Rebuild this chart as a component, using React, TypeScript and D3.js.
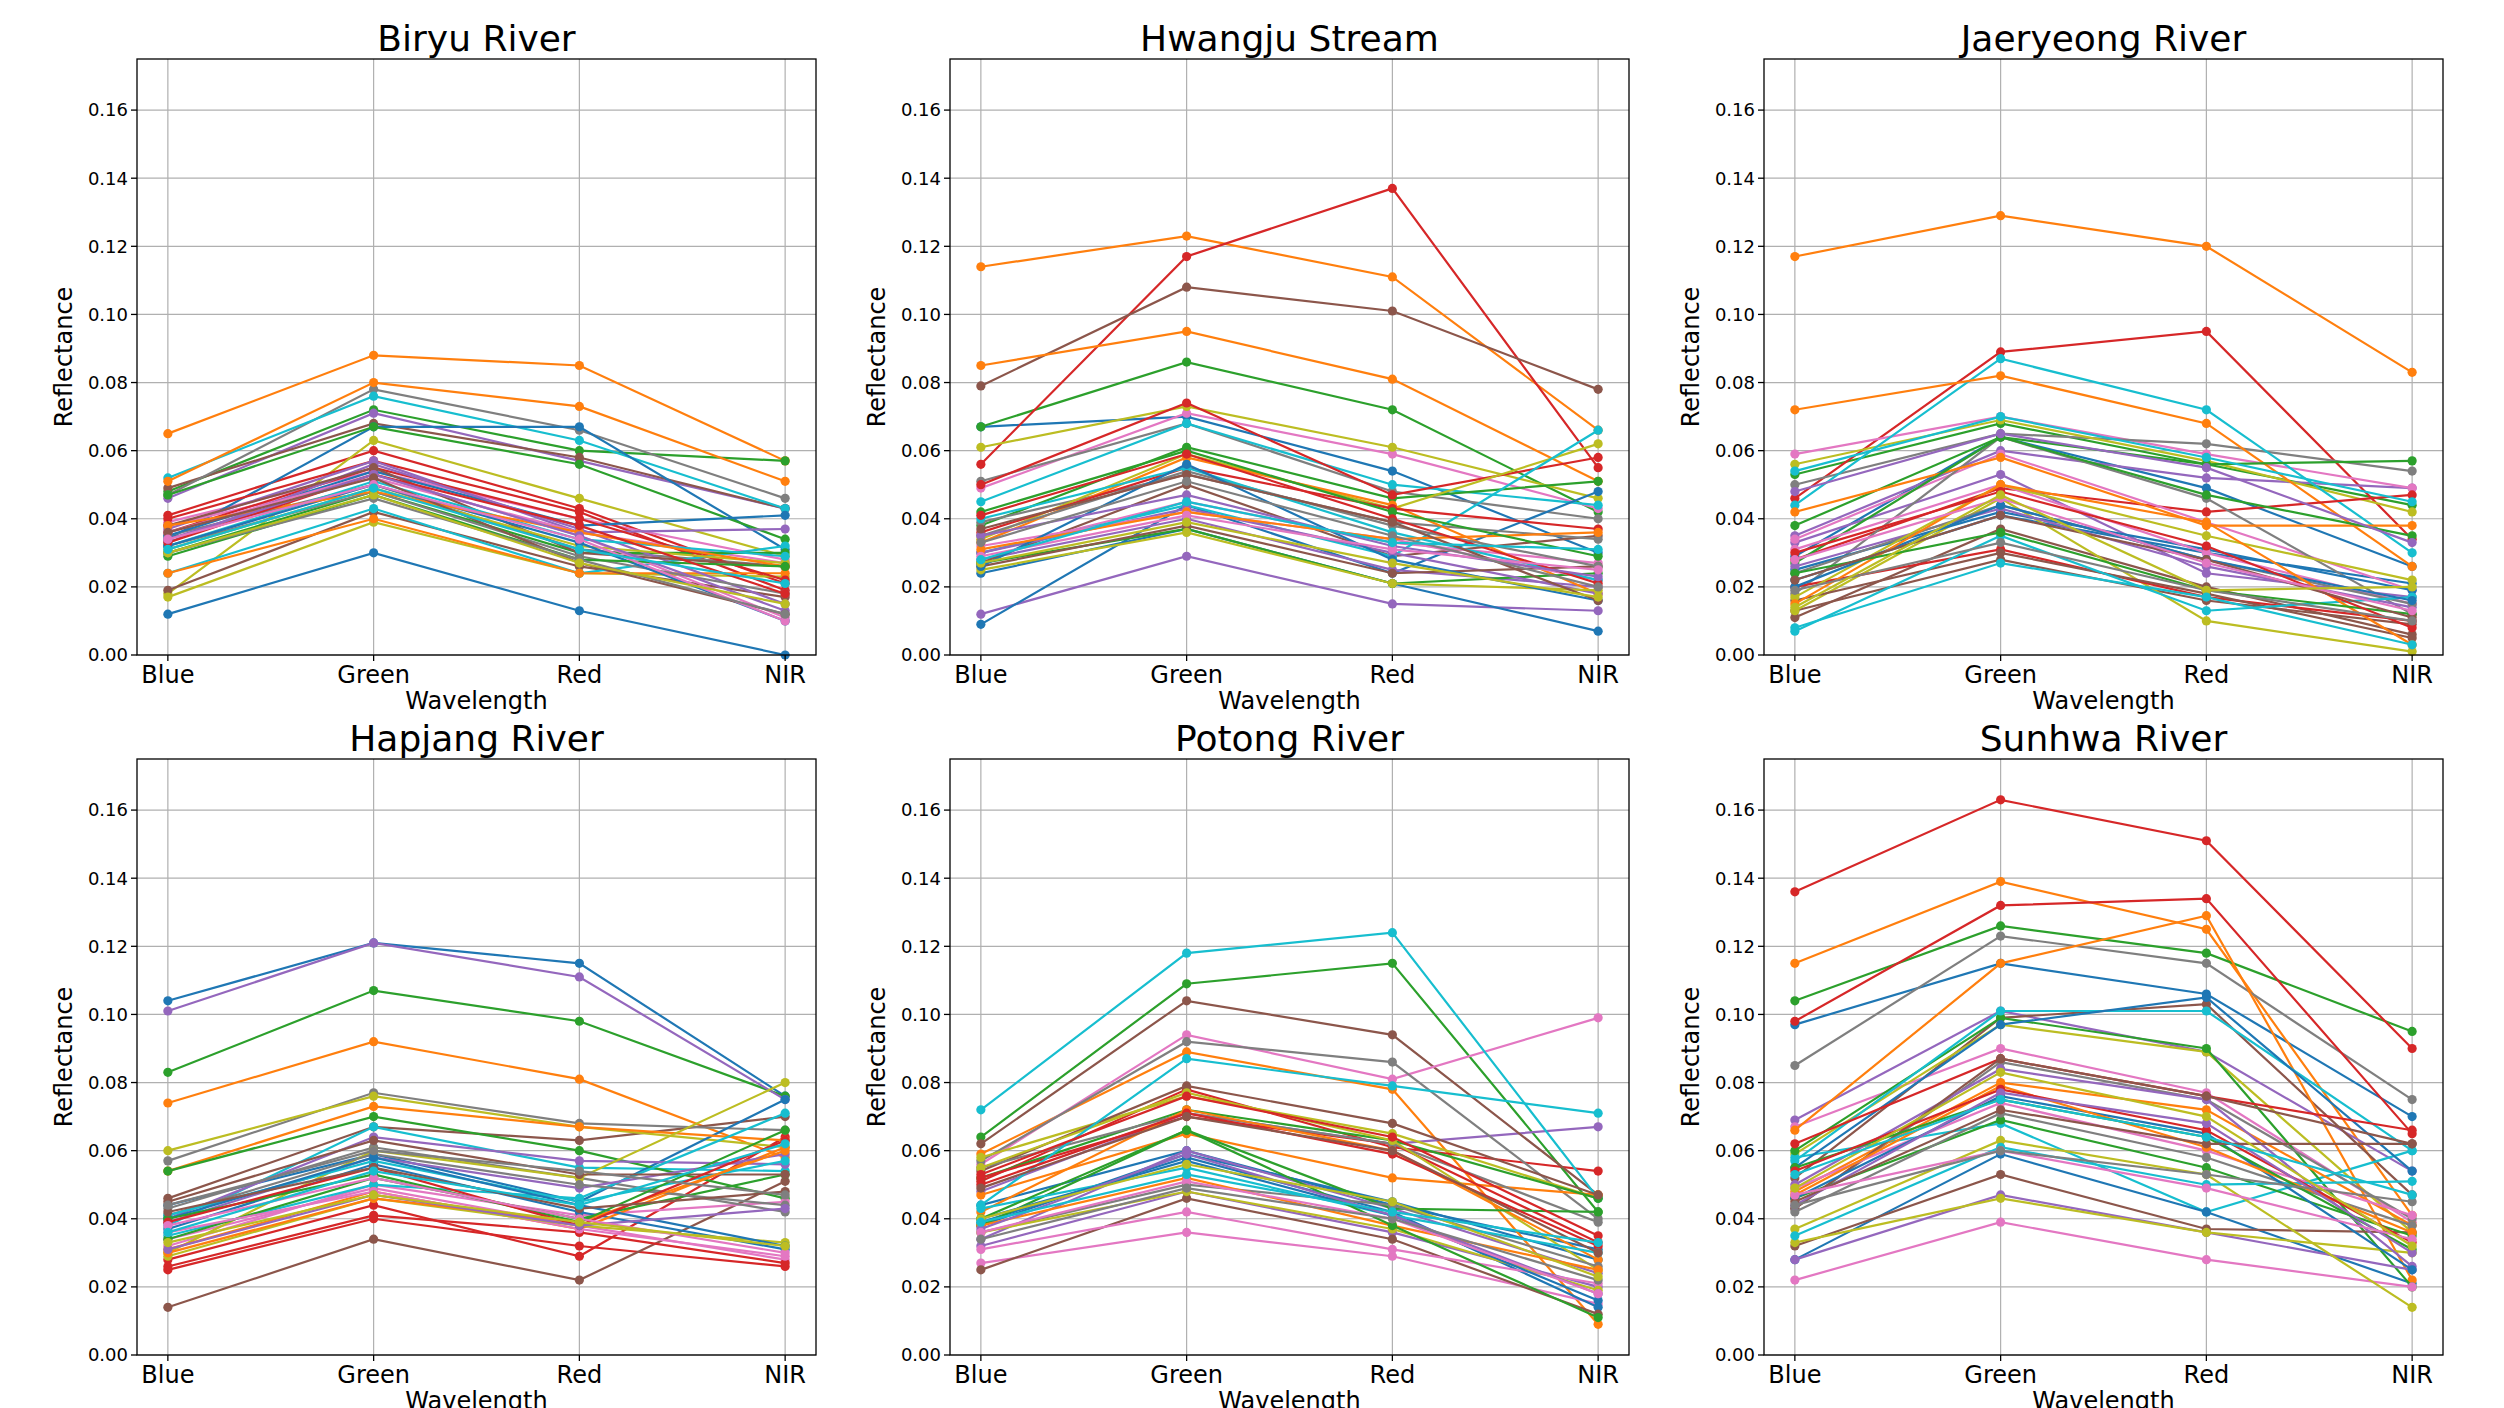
import { scaleLinear, scalePoint, line } from "d3";

const bands = ["Blue", "Green", "Red", "NIR"];
const yTicks = [0, 0.02, 0.04, 0.06, 0.08, 0.1, 0.12, 0.14, 0.16];
const tab10 = [
  "#1f77b4", "#ff7f0e", "#2ca02c", "#d62728", "#9467bd",
  "#8c564b", "#e377c2", "#7f7f7f", "#bcbd22", "#17becf",
];

// one row per pixel sample, rows colored in matplotlib cycle order
const biryu = [
  [0.012, 0.030, 0.013, 0.000], [0.065, 0.088, 0.085, 0.057], [0.048, 0.072, 0.060, 0.057], [0.041, 0.060, 0.043, 0.021], [0.046, 0.071, 0.057, 0.043],
  [0.049, 0.068, 0.058, 0.043], [0.039, 0.054, 0.040, 0.028], [0.047, 0.078, 0.066, 0.046], [0.018, 0.063, 0.046, 0.029], [0.052, 0.076, 0.063, 0.043],
  [0.034, 0.067, 0.067, 0.031], [0.051, 0.080, 0.073, 0.051], [0.047, 0.067, 0.056, 0.034], [0.040, 0.057, 0.042, 0.019], [0.037, 0.057, 0.036, 0.037],
  [0.019, 0.042, 0.026, 0.017], [0.038, 0.052, 0.036, 0.027], [0.035, 0.050, 0.031, 0.026], [0.017, 0.039, 0.024, 0.023], [0.024, 0.043, 0.024, 0.032],
  [0.035, 0.054, 0.038, 0.041], [0.024, 0.040, 0.024, 0.024], [0.030, 0.048, 0.030, 0.030], [0.036, 0.055, 0.040, 0.022], [0.033, 0.056, 0.037, 0.015],
  [0.038, 0.055, 0.030, 0.026], [0.036, 0.053, 0.035, 0.011], [0.032, 0.048, 0.029, 0.018], [0.031, 0.049, 0.032, 0.027], [0.032, 0.051, 0.034, 0.029],
  [0.032, 0.050, 0.033, 0.010], [0.038, 0.048, 0.036, 0.026], [0.029, 0.047, 0.028, 0.026], [0.033, 0.053, 0.038, 0.018], [0.034, 0.053, 0.035, 0.013],
  [0.036, 0.052, 0.027, 0.012], [0.034, 0.050, 0.034, 0.010], [0.030, 0.046, 0.028, 0.012], [0.030, 0.047, 0.027, 0.015], [0.031, 0.049, 0.031, 0.021],
];

const hwangju = [
  [0.067, 0.070, 0.054, 0.030], [0.114, 0.123, 0.111, 0.066], [0.067, 0.086, 0.072, 0.042], [0.056, 0.117, 0.137, 0.055], [0.012, 0.029, 0.015, 0.013],
  [0.079, 0.108, 0.101, 0.078], [0.049, 0.071, 0.059, 0.043], [0.051, 0.068, 0.048, 0.040], [0.061, 0.073, 0.061, 0.046], [0.045, 0.068, 0.050, 0.044],
  [0.009, 0.044, 0.024, 0.048], [0.085, 0.095, 0.081, 0.051], [0.038, 0.061, 0.046, 0.051], [0.050, 0.074, 0.047, 0.058], [0.028, 0.040, 0.025, 0.020],
  [0.027, 0.050, 0.029, 0.035], [0.030, 0.045, 0.033, 0.027], [0.039, 0.053, 0.039, 0.034], [0.034, 0.059, 0.043, 0.062], [0.030, 0.044, 0.029, 0.066],
  [0.024, 0.037, 0.021, 0.007], [0.033, 0.058, 0.044, 0.018], [0.027, 0.037, 0.021, 0.024], [0.036, 0.055, 0.043, 0.037], [0.030, 0.043, 0.030, 0.018],
  [0.026, 0.038, 0.024, 0.026], [0.032, 0.042, 0.034, 0.022], [0.035, 0.054, 0.038, 0.026], [0.025, 0.036, 0.021, 0.019], [0.040, 0.055, 0.036, 0.022],
  [0.026, 0.056, 0.028, 0.016], [0.031, 0.042, 0.034, 0.036], [0.042, 0.060, 0.042, 0.029], [0.041, 0.059, 0.040, 0.021], [0.035, 0.047, 0.032, 0.023],
  [0.037, 0.053, 0.039, 0.016], [0.029, 0.041, 0.031, 0.025], [0.033, 0.051, 0.035, 0.020], [0.027, 0.039, 0.027, 0.017], [0.028, 0.045, 0.033, 0.031],
];

const jaeryeong = [
  [0.029, 0.064, 0.049, 0.026], [0.117, 0.129, 0.120, 0.083], [0.053, 0.068, 0.056, 0.044], [0.046, 0.089, 0.095, 0.034], [0.035, 0.060, 0.052, 0.049],
  [0.011, 0.037, 0.020, 0.006], [0.059, 0.070, 0.059, 0.049], [0.050, 0.065, 0.062, 0.054], [0.056, 0.069, 0.057, 0.042], [0.044, 0.087, 0.072, 0.030],
  [0.022, 0.041, 0.030, 0.021], [0.072, 0.082, 0.068, 0.026], [0.038, 0.064, 0.056, 0.057], [0.028, 0.049, 0.042, 0.047], [0.033, 0.053, 0.024, 0.017],
  [0.013, 0.028, 0.016, 0.009], [0.034, 0.059, 0.039, 0.019], [0.018, 0.064, 0.046, 0.012], [0.013, 0.046, 0.010, 0.001], [0.054, 0.070, 0.058, 0.045],
  [0.025, 0.042, 0.031, 0.019], [0.042, 0.058, 0.038, 0.038], [0.027, 0.064, 0.047, 0.035], [0.020, 0.031, 0.017, 0.010], [0.026, 0.043, 0.026, 0.014],
  [0.016, 0.030, 0.018, 0.005], [0.031, 0.050, 0.030, 0.015], [0.024, 0.044, 0.028, 0.015], [0.017, 0.050, 0.035, 0.022], [0.007, 0.035, 0.013, 0.017],
  [0.020, 0.044, 0.028, 0.016], [0.015, 0.050, 0.039, 0.003], [0.024, 0.036, 0.019, 0.012], [0.030, 0.048, 0.032, 0.008], [0.048, 0.065, 0.055, 0.033],
  [0.022, 0.041, 0.028, 0.011], [0.028, 0.046, 0.027, 0.013], [0.019, 0.033, 0.019, 0.010], [0.014, 0.047, 0.019, 0.020], [0.008, 0.027, 0.017, 0.003],
];

const hapjang = [
  [0.104, 0.121, 0.115, 0.076], [0.074, 0.092, 0.081, 0.058], [0.083, 0.107, 0.098, 0.076], [0.028, 0.044, 0.029, 0.064], [0.101, 0.121, 0.111, 0.075],
  [0.046, 0.067, 0.063, 0.070], [0.034, 0.049, 0.038, 0.028], [0.057, 0.077, 0.068, 0.066], [0.060, 0.076, 0.067, 0.061], [0.038, 0.067, 0.055, 0.054],
  [0.044, 0.059, 0.045, 0.075], [0.054, 0.073, 0.067, 0.063], [0.054, 0.070, 0.060, 0.046], [0.025, 0.040, 0.032, 0.026], [0.040, 0.064, 0.057, 0.056],
  [0.014, 0.034, 0.022, 0.051], [0.032, 0.050, 0.041, 0.045], [0.043, 0.061, 0.052, 0.042], [0.030, 0.060, 0.052, 0.080], [0.035, 0.050, 0.046, 0.071],
  [0.037, 0.056, 0.042, 0.031], [0.031, 0.048, 0.037, 0.061], [0.034, 0.052, 0.040, 0.053], [0.026, 0.041, 0.036, 0.027], [0.039, 0.058, 0.049, 0.059],
  [0.045, 0.063, 0.053, 0.053], [0.036, 0.048, 0.037, 0.029], [0.041, 0.059, 0.050, 0.044], [0.029, 0.046, 0.038, 0.033], [0.041, 0.057, 0.045, 0.057],
  [0.040, 0.058, 0.044, 0.032], [0.030, 0.046, 0.039, 0.060], [0.040, 0.053, 0.039, 0.066], [0.039, 0.055, 0.038, 0.063], [0.031, 0.047, 0.038, 0.043],
  [0.042, 0.055, 0.043, 0.048], [0.038, 0.052, 0.040, 0.030], [0.044, 0.060, 0.054, 0.047], [0.033, 0.047, 0.039, 0.032], [0.036, 0.054, 0.044, 0.062],
];

const potong = [
  [0.044, 0.060, 0.044, 0.031], [0.059, 0.089, 0.078, 0.009], [0.064, 0.109, 0.115, 0.042], [0.051, 0.078, 0.061, 0.054], [0.048, 0.071, 0.062, 0.067],
  [0.062, 0.104, 0.094, 0.047], [0.056, 0.094, 0.081, 0.099], [0.057, 0.092, 0.086, 0.040], [0.058, 0.076, 0.065, 0.046], [0.072, 0.118, 0.124, 0.046],
  [0.038, 0.059, 0.045, 0.028], [0.047, 0.065, 0.052, 0.047], [0.052, 0.072, 0.063, 0.046], [0.052, 0.070, 0.062, 0.033], [0.034, 0.060, 0.043, 0.024],
  [0.054, 0.079, 0.068, 0.047], [0.027, 0.036, 0.029, 0.015], [0.055, 0.071, 0.062, 0.039], [0.055, 0.077, 0.063, 0.025], [0.044, 0.087, 0.079, 0.071],
  [0.039, 0.058, 0.042, 0.014], [0.042, 0.072, 0.060, 0.028], [0.038, 0.066, 0.043, 0.042], [0.050, 0.071, 0.059, 0.032], [0.032, 0.048, 0.036, 0.020],
  [0.025, 0.046, 0.034, 0.012], [0.031, 0.042, 0.031, 0.021], [0.036, 0.050, 0.044, 0.026], [0.036, 0.048, 0.037, 0.019], [0.043, 0.055, 0.041, 0.030],
  [0.040, 0.057, 0.041, 0.016], [0.038, 0.052, 0.038, 0.025], [0.040, 0.066, 0.038, 0.011], [0.053, 0.076, 0.064, 0.035], [0.037, 0.059, 0.041, 0.018],
  [0.049, 0.070, 0.060, 0.030], [0.036, 0.051, 0.040, 0.018], [0.034, 0.049, 0.040, 0.022], [0.040, 0.056, 0.045, 0.023], [0.039, 0.053, 0.042, 0.033],
];

const sunhwa = [
  [0.097, 0.115, 0.106, 0.070], [0.115, 0.139, 0.125, 0.041], [0.104, 0.126, 0.118, 0.095], [0.136, 0.163, 0.151, 0.090], [0.069, 0.101, 0.089, 0.054],
  [0.052, 0.099, 0.103, 0.047], [0.067, 0.090, 0.077, 0.039], [0.085, 0.123, 0.115, 0.075], [0.059, 0.097, 0.089, 0.036], [0.058, 0.068, 0.042, 0.060],
  [0.028, 0.059, 0.042, 0.021], [0.066, 0.115, 0.129, 0.022], [0.060, 0.099, 0.090, 0.020], [0.098, 0.132, 0.134, 0.065], [0.028, 0.047, 0.036, 0.025],
  [0.032, 0.053, 0.037, 0.036], [0.022, 0.039, 0.028, 0.020], [0.043, 0.086, 0.075, 0.040], [0.033, 0.046, 0.036, 0.030], [0.057, 0.101, 0.101, 0.060],
  [0.055, 0.097, 0.105, 0.054], [0.048, 0.080, 0.072, 0.038], [0.046, 0.069, 0.055, 0.035], [0.062, 0.087, 0.076, 0.066], [0.050, 0.084, 0.075, 0.026],
  [0.043, 0.087, 0.076, 0.062], [0.049, 0.074, 0.060, 0.041], [0.042, 0.071, 0.058, 0.038], [0.037, 0.063, 0.053, 0.014], [0.035, 0.061, 0.050, 0.051],
  [0.046, 0.076, 0.065, 0.025], [0.047, 0.079, 0.061, 0.036], [0.055, 0.075, 0.064, 0.031], [0.054, 0.078, 0.066, 0.033], [0.044, 0.077, 0.068, 0.030],
  [0.045, 0.072, 0.062, 0.062], [0.047, 0.060, 0.049, 0.034], [0.044, 0.060, 0.053, 0.045], [0.049, 0.083, 0.070, 0.032], [0.053, 0.075, 0.064, 0.047],
];

const titles = ["Biryu River", "Hwangju Stream", "Jaeryeong River", "Hapjang River", "Potong River", "Sunhwa River"];
const panelRows = [biryu, hwangju, jaeryeong, hapjang, potong, sunhwa];

const FONT = "DejaVu Sans, sans-serif";
const lefts = [137, 950, 1764];
const tops = [59, 759];
const PW = 679;
const PH = 596;

function Panel({ left, top, title, rows }: { left: number; top: number; title: string; rows: number[][] }) {
  const x = scalePoint<string>().domain(bands).range([0, PW]).padding(0.15);
  const y = scaleLinear().domain([0, 0.175]).range([PH, 0]);
  const path = line<number>()
    .x((_, i) => x(bands[i]) ?? 0)
    .y((d) => y(d));

  return (
    <g transform={`translate(${left},${top})`}>
      <text x={PW / 2} y={-8} textAnchor="middle" fontSize={36} fontFamily={FONT}>
        {title}
      </text>
      {yTicks.map((t) => (
        <line key={"gy" + t} x1={0} x2={PW} y1={y(t)} y2={y(t)} stroke="#b0b0b0" strokeWidth={1.2} />
      ))}
      {bands.map((b) => (
        <line key={"gx" + b} x1={x(b)} x2={x(b)} y1={0} y2={PH} stroke="#b0b0b0" strokeWidth={1.2} />
      ))}
      {rows.map((r, i) => (
        <g key={i}>
          <path d={path(r) ?? ""} fill="none" stroke={tab10[i % 10]} strokeWidth={2.2} />
          {r.map((v, j) => (
            <circle key={j} cx={x(bands[j])} cy={y(v)} r={4.6} fill={tab10[i % 10]} />
          ))}
        </g>
      ))}
      <rect x={0} y={0} width={PW} height={PH} fill="none" stroke="#000" strokeWidth={1.3} />
      {yTicks.map((t) => (
        <g key={"ty" + t} transform={`translate(0,${y(t)})`}>
          <line x1={-6} x2={0} stroke="#000" strokeWidth={1.3} />
          <text x={-9} dy="0.35em" textAnchor="end" fontSize={18} fontFamily={FONT}>
            {t.toFixed(2)}
          </text>
        </g>
      ))}
      {bands.map((b) => (
        <g key={"tx" + b} transform={`translate(${x(b)},${PH})`}>
          <line y1={0} y2={6} stroke="#000" strokeWidth={1.3} />
          <text y={28} textAnchor="middle" fontSize={24} fontFamily={FONT}>
            {b}
          </text>
        </g>
      ))}
      <text x={PW / 2} y={PH + 54} textAnchor="middle" fontSize={24} fontFamily={FONT}>
        Wavelength
      </text>
      <text
        transform={`translate(${-65},${PH / 2}) rotate(-90)`}
        textAnchor="middle"
        fontSize={24}
        fontFamily={FONT}
      >
        Reflectance
      </text>
    </g>
  );
}

export default function App() {
  return (
    <svg
      width={2504}
      height={1408}
      style={{ position: "absolute", left: 0, top: 0, background: "#fff" }}
    >
      <rect width={2504} height={1408} fill="#fff" />
      {panelRows.map((rows, k) => (
        <Panel
          key={titles[k]}
          left={lefts[k % 3]}
          top={tops[Math.floor(k / 3)]}
          title={titles[k]}
          rows={rows}
        />
      ))}
    </svg>
  );
}
